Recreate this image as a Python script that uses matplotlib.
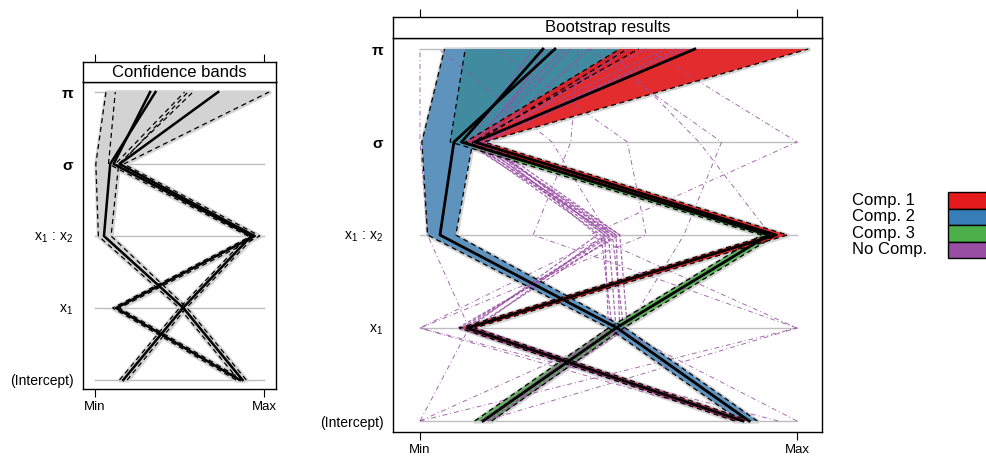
import numpy as np
import matplotlib
matplotlib.use("Agg")
import matplotlib.pyplot as plt
from matplotlib.patches import Rectangle

plt.rcParams['font.family'] = ['Liberation Sans', 'DejaVu Sans']
plt.rcParams['mathtext.fontset'] = 'custom'
plt.rcParams['mathtext.rm'] = 'Liberation Sans'
plt.rcParams['mathtext.it'] = 'Liberation Sans:italic'

# parameters, bottom to top
var_labels = ['(Intercept)', r'$\mathrm{x_1}$', r'$\mathrm{x_1\,:\,x_2}$', 'σ', 'π']
ypos = np.arange(1, 6)

# standardised estimates (0 = Min, 1 = Max) with confidence bounds
comp1_mean = [0.857, 0.125, 0.945, 0.145, 0.729]
comp1_lo = [0.835, 0.105, 0.925, 0.120, 0.530]
comp1_hi = [0.878, 0.145, 0.975, 0.170, 1.030]
comp2_mean = [0.873, 0.523, 0.053, 0.090, 0.358]
comp2_lo = [0.850, 0.500, 0.020, 0.005, 0.065]
comp2_hi = [0.895, 0.545, 0.095, 0.140, 0.580]
comp3_mean = [0.167, 0.520, 0.925, 0.110, 0.326]
comp3_lo = [0.145, 0.500, 0.905, 0.080, 0.120]
comp3_hi = [0.190, 0.540, 0.945, 0.150, 0.550]

# bootstrap fits that could not be matched to a component
nocomp_dense = [
    [0.86, 0.12, 0.50, 0.15, 0.70],
    [0.85, 0.14, 0.52, 0.13, 0.65],
    [0.87, 0.13, 0.47, 0.17, 0.72],
    [0.84, 0.11, 0.51, 0.12, 0.60],
    [0.86, 0.15, 0.49, 0.18, 0.55],
    [0.85, 0.10, 0.53, 0.16, 0.68],
    [0.17, 0.52, 0.50, 0.15, 0.35],
    [0.18, 0.53, 0.52, 0.16, 0.40],
    [0.16, 0.51, 0.48, 0.13, 0.30],
    [0.19, 0.54, 0.51, 0.17, 0.45],
    [0.17, 0.50, 0.49, 0.14, 0.38],
    [0.18, 0.55, 0.53, 0.18, 0.33],
]
nocomp_sparse = [
    [0.00, 0.13, 0.02, 0.00, 0.00],
    [0.95, 0.00, 0.50, 0.35, 0.05],
    [0.00, 1.00, 0.45, 1.00, 0.60],
    [1.00, 0.52, 0.93, 0.74, 0.50],
    [0.17, 1.00, 0.30, 0.40, 0.42],
    [0.86, 0.00, 0.60, 0.55, 0.20],
    [0.00, 0.55, 0.70, 0.80, 0.45],
]

legend_labels = ['Comp. 1', 'Comp. 2', 'Comp. 3', 'No Comp.']
colors = ['#E41A1C', '#377EB8', '#4DAF4A', '#984EA3']

comps = [
    (comp1_mean, comp1_lo, comp1_hi, colors[0]),
    (comp2_mean, comp2_lo, comp2_hi, colors[1]),
    (comp3_mean, comp3_lo, comp3_hi, colors[2]),
]
fill_alpha = [0.9, 0.75, 0.85]

W, H = 987, 457
fig = plt.figure(figsize=(W / 100, H / 100), dpi=100)


def px_box(x0, y0, x1, y1):
    return [x0 / W, 1 - y1 / H, (x1 - x0) / W, (y1 - y0) / H]


def draw_panel(ax, strip, title, xmin_px, xmax_px, lo_px, hi_px, bootstrap):
    unit = xmax_px - xmin_px
    xlim = ((lo_px - xmin_px) / unit, (hi_px - xmin_px) / unit)
    ax.set_xlim(*xlim)
    for y in ypos:
        ax.plot([0, 1], [y, y], color='#bdbdbd', lw=1, zorder=1)
    for mean, lo, hi, col in comps:
        ax.fill_betweenx(ypos, lo, hi, facecolor='#d3d3d3', edgecolor='#d3d3d3', lw=3, zorder=2)
    if bootstrap:
        for k in [2, 1, 0]:
            mean, lo, hi, col = comps[k]
            ax.fill_betweenx(ypos, lo, hi, facecolor=col, edgecolor='none',
                             alpha=fill_alpha[k], zorder=3)
        for row in nocomp_dense:
            ax.plot(row, ypos, color=colors[3], lw=0.9, dashes=(3, 1.5), alpha=0.85, zorder=4)
        for row in nocomp_sparse:
            ax.plot(row, ypos, color=colors[3], lw=0.7, dashes=(5, 3, 1, 3), alpha=0.85, zorder=4)
    for mean, lo, hi, col in comps:
        ax.plot(lo, ypos, color='black', lw=0.9, dashes=(4, 3), zorder=5)
        ax.plot(hi, ypos, color='black', lw=0.9, dashes=(4, 3), zorder=5)
    for mean, lo, hi, col in comps:
        ax.plot(mean, ypos, color='black', lw=2.0 if bootstrap else 1.8, zorder=6)

    ax.set_yticks(ypos, var_labels)
    ax.tick_params(axis='y', length=0, pad=7, labelsize=10)
    for t in ax.get_yticklabels():
        if t.get_text() in ('σ', 'π'):
            t.set_fontweight('bold')
            t.set_fontsize(11)
    ax.set_xticks([0, 1], ['Min', 'Max'])
    ax.tick_params(axis='x', direction='out', length=5.8, width=0.8, pad=3, labelsize=9.5)
    for s in ax.spines.values():
        s.set_linewidth(1)

    strip.set_xlim(*xlim)
    strip.set_ylim(0, 1)
    strip.set_yticks([])
    strip.set_xticks([0, 1])
    strip.tick_params(axis='x', top=True, bottom=False, labeltop=False, labelbottom=False,
                      direction='out', length=5.8, width=0.8)
    strip.text(0.5, 0.48, title, transform=strip.transAxes, ha='center', va='center', fontsize=12)
    for s in strip.spines.values():
        s.set_linewidth(1)


# left panel: confidence bands only
ax1 = fig.add_axes(px_box(83, 82, 276, 389))
s1 = fig.add_axes(px_box(83, 62, 276, 82))
draw_panel(ax1, s1, 'Confidence bands', 95, 264, 83, 276, False)
ax1.set_ylim(1 - 9 / 72, 5 + 10 / 72)

# right panel: bootstrap fits
ax2 = fig.add_axes(px_box(393, 38, 822, 432))
s2 = fig.add_axes(px_box(393, 17, 822, 38))
draw_panel(ax2, s2, 'Bootstrap results', 420, 797, 393, 822, True)
ax2.set_ylim(1 - 11 / 93, 5 + 11 / 93)

# legend
row_h = 16.5
for i, (lab, col) in enumerate(zip(legend_labels, colors)):
    top = 192 + i * row_h
    fig.patches.append(Rectangle((948 / W, 1 - (top + row_h) / H), 50 / W, row_h / H,
                                 transform=fig.transFigure, facecolor=col,
                                 edgecolor='black', lw=1))
    fig.text(852 / W, 1 - (top + row_h / 2) / H, lab, ha='left', va='center', fontsize=12)

fig.savefig('out.png', dpi=100)
